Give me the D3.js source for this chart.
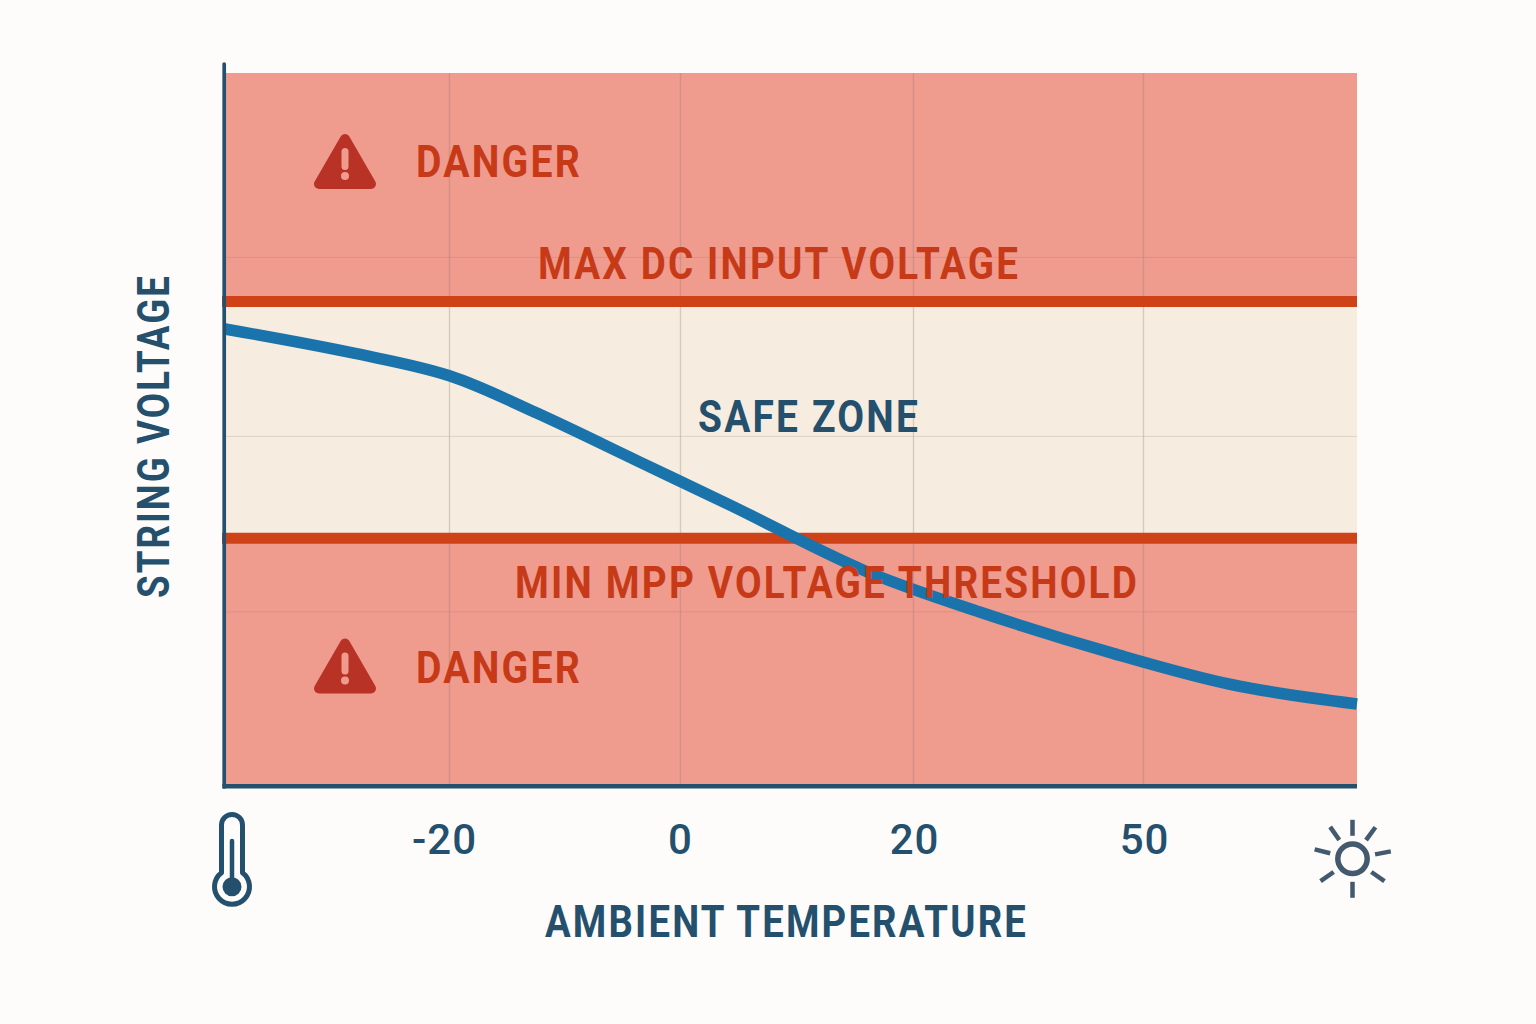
<!DOCTYPE html>
<html><head><meta charset="utf-8">
<script src="https://cdn.jsdelivr.net/npm/d3@7"></script>
<style>html,body{margin:0;background:#fdfcfa}svg{display:block}text{font-family:Roboto,sans-serif;font-weight:700}</style>
</head><body><svg id="c" width="1536" height="1024"></svg>
<script>
const tempTicks=[-20,0,20,50];
const voltTicks=[24.5,49.1,74.2];
const maxDcInput=67.95;
const minMpp=34.74;
const curveTemp=[-40,-28.5,-19.9,-12.4,-3.7,4.3,15.7,28.7,46.1,61.7,78];
const curveVolt=[64.1,60.7,57.5,52.3,45.6,39.4,30.3,24.4,18.6,14.2,11.5];
const navy="#24506e",red="#c63a18",lineRed="#cf4218",danger="#ef9b8e",safe="#f6ecdf",blue="#1a74ab";

const svg=d3.select("#c");
const x=d3.scaleLinear().domain([-40,-20,0,20,50,78]).range([225,449,680,913,1143,1357]);
const y=d3.scaleLinear().domain([0,100]).range([786,73]);

// bands
svg.append("rect").attr("x",x(-40)).attr("width",x(78)-x(-40)).attr("y",y(100)).attr("height",y(0)-y(100)).attr("fill",danger);
svg.append("rect").attr("x",x(-40)).attr("width",x(78)-x(-40)).attr("y",y(maxDcInput)).attr("height",y(minMpp)-y(maxDcInput)).attr("fill",safe);

// grid
svg.append("g").attr("transform",`translate(0,${y(0)})`).call(d3.axisBottom(x).tickValues(tempTicks).tickSize(-(y(0)-y(100))).tickFormat(""))
  .call(g=>g.select(".domain").remove())
  .call(g=>g.selectAll("line").attr("stroke","#8a7a70").attr("stroke-opacity",.3).attr("stroke-width",1.3));
svg.append("g").attr("transform",`translate(${x(-40)},0)`).call(d3.axisLeft(y).tickValues(voltTicks).tickSize(-(x(78)-x(-40))).tickFormat(""))
  .call(g=>g.select(".domain").remove())
  .call(g=>g.selectAll("line").attr("stroke","#8a7a70").attr("stroke-opacity",.22).attr("stroke-width",1));

// threshold lines
svg.selectAll("line.th").data([maxDcInput,minMpp]).join("line").attr("class","th")
  .attr("x1",222).attr("x2",x(78)).attr("y1",d=>y(d)).attr("y2",d=>y(d))
  .attr("stroke",lineRed).attr("stroke-width",11);

// curve
const line=d3.line().x((d,i)=>x(curveTemp[i])).y(d=>y(d)).curve(d3.curveCatmullRom.alpha(.5));
svg.append("path").attr("d",line(curveVolt)).attr("fill","none").attr("stroke",blue).attr("stroke-width",11.5);

// axes
svg.append("line").attr("x1",224.2).attr("x2",224.2).attr("y1",64).attr("y2",787).attr("stroke",navy).attr("stroke-width",3.7).attr("stroke-linecap","round");
svg.append("line").attr("x1",222.4).attr("x2",x(78)).attr("y1",786.3).attr("y2",786.3).attr("stroke",navy).attr("stroke-width",4.5);

const xAxis=svg.append("g").attr("transform",`translate(0,${y(0)})`).call(d3.axisBottom(x).tickValues(tempTicks).tickSize(0).tickPadding(38).tickFormat(String));
xAxis.select(".domain").remove();
xAxis.selectAll("text").attr("fill",navy).style("font-size","42px").style("font-weight",500).style("letter-spacing","1px").attr("dx",d=>d<0?-5:d>0?1:0);

function label(t,x0,x1,base,size,fill){
  return svg.append("text").text(t).attr("x",x0).attr("y",base).attr("fill",fill)
    .attr("textLength",x1-x0+2).attr("lengthAdjust","spacingAndGlyphs")
    .style("font-size",size+"px").style("letter-spacing","2.5px");
}
label("DANGER",416,580,177,44,red);
label("DANGER",416,580,683,44,red);
label("MAX DC INPUT VOLTAGE",538,1018,279,44,red);
label("MIN MPP VOLTAGE THRESHOLD",515,1137,598,44,red);
label("SAFE ZONE",698,918,432,44,navy);
label("AMBIENT TEMPERATURE",545,1026,937,44,navy);
svg.append("g").attr("transform","translate(169,598) rotate(-90)").append("text").text("STRING VOLTAGE")
  .attr("textLength",324).attr("lengthAdjust","spacingAndGlyphs").style("letter-spacing","2.5px").attr("fill",navy).style("font-size","44px");

// warning icons
[161,665.5].forEach(cy=>{
  const g=svg.append("g").attr("transform",`translate(345,${cy})`);
  g.append("path").attr("d","M0,-22 L26,23 L-26,23 Z").attr("fill","#b93226").attr("stroke","#b93226").attr("stroke-width",10).attr("stroke-linejoin","round");
  g.append("rect").attr("x",-3.5).attr("y",-13).attr("width",7).attr("height",22).attr("rx",3.5).attr("fill",danger);
  g.append("circle").attr("cx",0).attr("cy",15).attr("r",4).attr("fill",danger);
});

// thermometer
const th=svg.append("g").attr("transform","translate(232,0)");
th.append("path").attr("d","M-10.5,825 A10.5,10.5 0 0 1 10.5,825 L10.5,872.7 A17.5,17.5 0 1 1 -10.5,872.7 Z").attr("fill","none").attr("stroke",navy).attr("stroke-width",5).attr("stroke-linejoin","round");
th.append("line").attr("y1",841).attr("y2",880).attr("stroke",navy).attr("stroke-width",4.5).attr("stroke-linecap","round");
th.append("circle").attr("cy",886.7).attr("r",9.5).attr("fill",navy);

// sun
const sun=svg.append("g").attr("transform","translate(1352.5,858.8)");
sun.append("circle").attr("r",14.7).attr("fill","none").attr("stroke","#43596d").attr("stroke-width",5.5);
const rayAngles=[0,36,79,125,180,235,284,325];
sun.selectAll("line").data(rayAngles).join("line").attr("y1",-23).attr("y2",-39)
  .attr("transform",d=>`rotate(${d})`).attr("stroke","#43596d").attr("stroke-width",4.5);
</script></body></html>
